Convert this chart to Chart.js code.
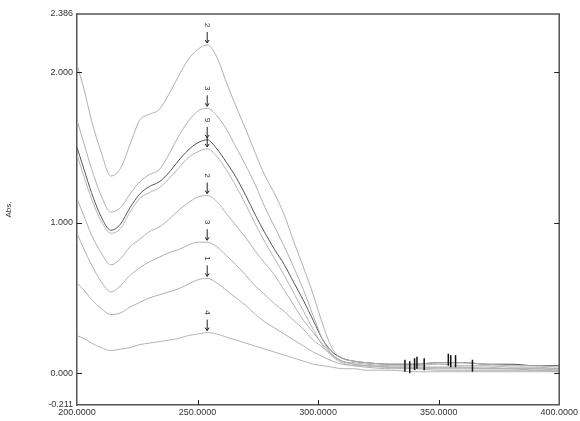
<!DOCTYPE html>
<html>
<head>
<meta charset="utf-8">
<script src="https://cdn.jsdelivr.net/npm/chart.js@4/dist/chart.umd.min.js"></script>
<style>
  html, body { margin: 0; padding: 0; background: #fff; }
  #wrap { width: 580px; height: 421px; }
</style>
</head>
<body>
<div id="wrap"><canvas id="specChart" width="580" height="421"></canvas></div>
<script>
const wavelengths = [200, 203, 206, 210, 214, 218, 222, 226, 230, 234, 238, 242, 246, 250, 254, 258, 262, 266, 270, 274, 278, 282, 286, 290, 294, 298, 302, 306, 310, 315, 320, 330, 340, 350, 360, 370, 380, 390, 400];

const spec1 = [2.05, 1.88, 1.68, 1.47, 1.31, 1.36, 1.52, 1.68, 1.72, 1.75, 1.85, 1.97, 2.08, 2.15, 2.18, 2.10, 1.93, 1.77, 1.62, 1.46, 1.31, 1.19, 1.05, 0.87, 0.70, 0.52, 0.32, 0.16, 0.10, 0.08, 0.07, 0.06, 0.06, 0.07, 0.07, 0.06, 0.05, 0.05, 0.04];
const spec2 = [1.68, 1.52, 1.36, 1.18, 1.07, 1.10, 1.19, 1.27, 1.32, 1.35, 1.45, 1.57, 1.67, 1.74, 1.76, 1.71, 1.62, 1.50, 1.38, 1.25, 1.10, 0.97, 0.84, 0.70, 0.55, 0.38, 0.22, 0.12, 0.08, 0.07, 0.06, 0.05, 0.05, 0.06, 0.05, 0.05, 0.04, 0.04, 0.03];
const spec3 = [1.50, 1.35, 1.20, 1.04, 0.95, 0.99, 1.10, 1.19, 1.24, 1.27, 1.33, 1.41, 1.48, 1.53, 1.55, 1.49, 1.40, 1.30, 1.18, 1.05, 0.93, 0.82, 0.72, 0.60, 0.48, 0.35, 0.22, 0.14, 0.10, 0.08, 0.07, 0.06, 0.06, 0.07, 0.07, 0.06, 0.06, 0.05, 0.05];
const spec4 = [1.45, 1.30, 1.16, 1.01, 0.93, 0.96, 1.07, 1.16, 1.20, 1.23, 1.29, 1.36, 1.43, 1.47, 1.49, 1.44, 1.35, 1.24, 1.12, 0.99, 0.87, 0.76, 0.65, 0.53, 0.41, 0.29, 0.18, 0.11, 0.07, 0.05, 0.05, 0.04, 0.04, 0.04, 0.04, 0.04, 0.03, 0.03, 0.03];
const spec5 = [1.16, 1.04, 0.92, 0.80, 0.72, 0.76, 0.84, 0.89, 0.94, 0.97, 1.02, 1.08, 1.13, 1.17, 1.18, 1.14, 1.06, 0.98, 0.90, 0.81, 0.73, 0.65, 0.55, 0.45, 0.35, 0.27, 0.19, 0.12, 0.08, 0.06, 0.05, 0.04, 0.04, 0.04, 0.04, 0.03, 0.03, 0.03, 0.02];
const spec6 = [0.93, 0.82, 0.72, 0.61, 0.54, 0.58, 0.65, 0.70, 0.74, 0.77, 0.80, 0.82, 0.85, 0.87, 0.87, 0.84, 0.78, 0.72, 0.65, 0.58, 0.52, 0.46, 0.41, 0.35, 0.29, 0.22, 0.17, 0.12, 0.08, 0.06, 0.05, 0.04, 0.03, 0.03, 0.03, 0.03, 0.03, 0.02, 0.02];
const spec7 = [0.60, 0.55, 0.49, 0.43, 0.39, 0.40, 0.44, 0.47, 0.50, 0.52, 0.54, 0.56, 0.59, 0.62, 0.63, 0.60, 0.55, 0.50, 0.45, 0.39, 0.34, 0.30, 0.26, 0.22, 0.18, 0.14, 0.11, 0.08, 0.06, 0.05, 0.04, 0.03, 0.03, 0.02, 0.02, 0.02, 0.02, 0.02, 0.01];
const spec8 = [0.25, 0.23, 0.20, 0.17, 0.15, 0.16, 0.17, 0.19, 0.20, 0.21, 0.22, 0.23, 0.25, 0.26, 0.27, 0.26, 0.24, 0.22, 0.20, 0.18, 0.16, 0.14, 0.12, 0.10, 0.08, 0.06, 0.05, 0.04, 0.03, 0.03, 0.02, 0.02, 0.01, 0.01, 0.01, 0.01, 0.01, 0.01, 0.01];

const allSpectra = [spec1, spec2, spec3, spec4, spec5, spec6, spec7, spec8];
const peakLabels = ["2", "3", "9", "6", "2", "3", "1", "4"];
const peakNm = 254;

// petits repères de pics près de la ligne de base
const minorPeakNm = [336, 338, 340, 341, 344, 354, 355, 357, 364];
const minorPeakVal = [0.05, 0.04, 0.06, 0.07, 0.06, 0.09, 0.08, 0.08, 0.05];

const yTicks = [-0.211, 0, 1, 2, 2.386];
const xTicks = [200, 250, 300, 350, 400];

const lineColors = ['#b0b0b0', '#b0b0b0', '#555555', '#b4b4b4', '#b0b0b0', '#b0b0b0', '#b0b0b0', '#b4b4b4'];

// --- Plugin : cadre, graduations internes, annotations ---
const decorPlugin = {
    id: 'decor',
    afterDatasetsDraw(chart) {
        const ctx = chart.ctx;
        const area = chart.chartArea;
        const xs = chart.scales.x;
        const ys = chart.scales.y;
        ctx.save();
        // cadre haut / droite
        ctx.strokeStyle = '#555';
        ctx.lineWidth = 1.5;
        ctx.beginPath();
        ctx.moveTo(area.left, area.top);
        ctx.lineTo(area.right, area.top);
        ctx.lineTo(area.right, area.bottom);
        ctx.stroke();
        // graduations internes
        ctx.strokeStyle = '#222';
        ctx.lineWidth = 1;
        [0, 1, 2].forEach(v => {
            const y = Math.round(ys.getPixelForValue(v)) + 0.5;
            ctx.beginPath();
            ctx.moveTo(area.left, y); ctx.lineTo(area.left + 5, y);
            ctx.moveTo(area.right, y); ctx.lineTo(area.right - 5, y);
            ctx.stroke();
        });
        [250, 300, 350].forEach(v => {
            const x = Math.round(xs.getPixelForValue(v)) + 0.5;
            ctx.beginPath();
            ctx.moveTo(x, area.bottom); ctx.lineTo(x, area.bottom - 5);
            ctx.stroke();
        });
        // étiquettes des pics (texte tourné + flèche)
        const iPeak = wavelengths.indexOf(peakNm);
        ctx.fillStyle = '#333';
        ctx.strokeStyle = '#222';
        ctx.font = '8px "Liberation Sans", Arial, sans-serif';
        allSpectra.forEach((s, i) => {
            const px = xs.getPixelForValue(peakNm);
            const py = ys.getPixelForValue(s[iPeak]);
            if (i === 3) {
                // pic collé au précédent : flèche seule
                ctx.beginPath();
                ctx.moveTo(px, py - 12); ctx.lineTo(px, py - 2);
                ctx.stroke();
                ctx.beginPath();
                ctx.moveTo(px - 2, py - 5); ctx.lineTo(px, py - 2); ctx.lineTo(px + 2, py - 5);
                ctx.stroke();
                return;
            }
            ctx.save();
            ctx.translate(px, py - 20);
            ctx.rotate(Math.PI / 2);
            ctx.textAlign = 'center';
            ctx.textBaseline = 'middle';
            ctx.fillText(peakLabels[i], 0, 0);
            ctx.restore();
            ctx.beginPath();
            ctx.moveTo(px, py - 13); ctx.lineTo(px, py - 2);
            ctx.stroke();
            ctx.beginPath();
            ctx.moveTo(px - 2, py - 5); ctx.lineTo(px, py - 2); ctx.lineTo(px + 2, py - 5);
            ctx.stroke();
        });
        // repères près de la ligne de base
        ctx.strokeStyle = '#111';
        ctx.lineWidth = 1.5;
        minorPeakNm.forEach((nm, i) => {
            const x = xs.getPixelForValue(nm);
            const y = ys.getPixelForValue(minorPeakVal[i]);
            ctx.beginPath();
            ctx.moveTo(x, y - 6); ctx.lineTo(x, y + 6);
            ctx.stroke();
        });
        ctx.restore();
    }
};

const datasets = allSpectra.map((s, i) => ({
    label: 'Spectre ' + (i + 1),
    data: wavelengths.map((w, j) => ({ x: w, y: s[j] })),
    borderColor: lineColors[i],
    borderWidth: 1,
    pointRadius: 0,
    fill: false,
    cubicInterpolationMode: 'monotone'
}));

const specChart = new Chart(
    document.getElementById('specChart').getContext('2d'),
    {
        type: 'line',
        data: { datasets: datasets },
        options: {
            responsive: false,
            animation: false,
            layout: { padding: { top: 14, right: 17, left: 0, bottom: 0 } },
            plugins: {
                legend: { display: false },
                tooltip: { enabled: false }
            },
            scales: {
                x: {
                    type: 'linear',
                    min: 200,
                    max: 400,
                    afterBuildTicks: scale => { scale.ticks = xTicks.map(v => ({ value: v })); },
                    afterFit: scale => { scale.height = 16; },
                    grid: { display: true, drawOnChartArea: false, drawTicks: false },
                    border: { color: '#555', width: 1.5 },
                    ticks: {
                        padding: 2,
                        maxRotation: 0,
                        autoSkip: false,
                        color: '#333',
                        font: { family: '"Liberation Sans", Arial, sans-serif', size: 9 },
                        callback: v => Number(v).toFixed(4)
                    }
                },
                y: {
                    min: -0.211,
                    max: 2.386,
                    afterBuildTicks: scale => { scale.ticks = yTicks.map(v => ({ value: v })); },
                    afterFit: scale => { scale.width = 77; },
                    grid: { display: true, drawOnChartArea: false, drawTicks: false },
                    border: { color: '#555', width: 1.5 },
                    title: {
                        display: true,
                        text: 'Abs.',
                        color: '#333',
                        font: { family: '"Liberation Sans", Arial, sans-serif', size: 8 }
                    },
                    ticks: {
                        padding: 4,
                        autoSkip: false,
                        color: '#333',
                        font: { family: '"Liberation Sans", Arial, sans-serif', size: 9 },
                        callback: v => Number(v).toFixed(3)
                    }
                }
            }
        },
        plugins: [decorPlugin]
    }
);
</script>
</body>
</html>
